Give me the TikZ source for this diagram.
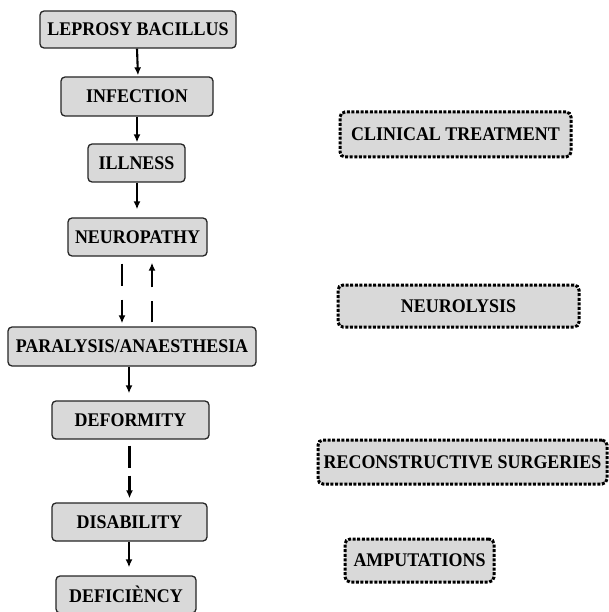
\documentclass[tikz,border=0pt]{standalone}
\usepackage{fontspec}
\setmainfont{Liberation Serif}[FakeStretch=0.93]
\usetikzlibrary{arrows.meta}
\definecolor{boxfill}{HTML}{D9D9D9}
\tikzset{
  box/.style={draw=black!85, fill=boxfill, line width=1.3pt, rounded corners=4pt, inner sep=0pt,
    font=\fontsize{19.3}{21}\selectfont\bfseries, text=black},
  dotbox/.style={draw=black, fill=boxfill, line width=3pt, dash pattern=on 3pt off 1.6pt, rounded corners=5pt, inner sep=0pt,
    font=\fontsize{19.3}{21}\selectfont\bfseries, text=black},
  arr/.style={draw=black, line width=2.1pt, -{Latex[length=8pt,width=7pt]}},
}
\begin{document}
\begin{tikzpicture}[x=1pt,y=1pt]
\useasboundingbox[fill=white] (0,0) rectangle (609,-612);
% left column
\node[box, minimum width=196pt, minimum height=37pt] (lep) at (138,-29.5) {LEPROSY BACILLUS};
\node[box, minimum width=152pt, minimum height=39pt] (inf) at (137,-96.5) {INFECTION};
\node[box, minimum width=97pt, minimum height=38pt] (ill) at (136.5,-163) {ILLNESS};
\node[box, minimum width=139pt, minimum height=38pt] (neu) at (137.5,-237) {NEUROPATHY};
\node[box, minimum width=248pt, minimum height=39pt] (par) at (132,-346.5) {PARALYSIS/ANAESTHESIA};
\node[box, minimum width=157pt, minimum height=38pt] (def) at (130.5,-420) {DEFORMITY};
\node[box, minimum width=155pt, minimum height=38pt] (dis) at (129.5,-522) {DISABILITY};
\node[box, minimum width=140pt, minimum height=37pt] (dfc) at (126,-594.5) {DEFICIÈNCY};
% right column
\node[dotbox, minimum width=231pt, minimum height=45pt] (cli) at (455.5,-134.5) {CLINICAL TREATMENT};
\node[dotbox, minimum width=241pt, minimum height=42pt] (nly) at (458.5,-306) {NEUROLYSIS};
\node[dotbox, minimum width=289pt, minimum height=44pt] (rec) at (462.5,-462) {RECONSTRUCTIVE SURGERIES};
\node[dotbox, minimum width=149pt, minimum height=43pt] (amp) at (419.5,-560.5) {AMPUTATIONS};
% connectors
\draw[arr, shorten >=1pt] ([xshift=-1pt]lep.south) -- (lep.south |- inf.north);
\draw[arr, shorten >=1pt] (inf.south) -- (inf.south |- ill.north);
\draw[arr, shorten >=8pt] ([xshift=0.5pt]ill.south) -- ([xshift=-0.5pt]neu.north);
\draw[arr, dash pattern=on 22pt off 14pt on 80pt, shorten <=7pt, shorten >=3pt]
  ([xshift=-15.5pt]neu.south) -- ([xshift=-10pt]par.north);
\draw[arr, dash pattern=on 21pt off 14pt on 80pt, shorten <=4pt, shorten >=6pt]
  ([xshift=20pt]par.north) -- ([xshift=14.5pt]neu.south);
\draw[arr, shorten >=7pt] ([xshift=-3pt]par.south) -- ([xshift=-1.5pt]def.north);
\draw[arr, dash pattern=on 22pt off 8pt on 80pt, shorten <=6pt, shorten >=4pt]
  ([xshift=-1pt]def.south) -- (dis.north);
\draw[arr, shorten >=8pt] ([xshift=-0.5pt]dis.south) -- ([xshift=3pt]dfc.north);
\end{tikzpicture}
\end{document}
